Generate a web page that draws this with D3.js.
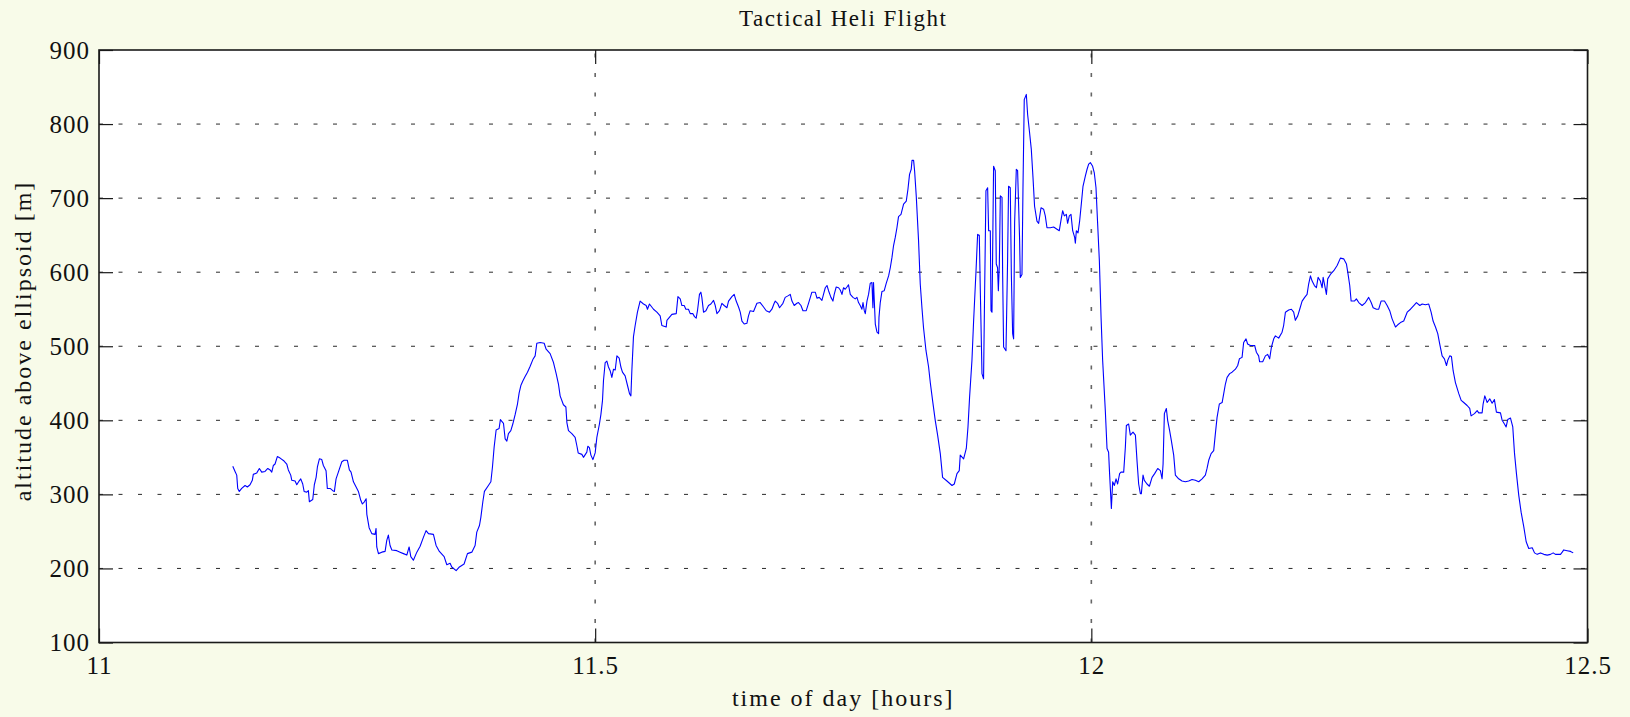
<!DOCTYPE html>
<html>
<head>
<meta charset="utf-8">
<script src="https://cdn.jsdelivr.net/npm/d3@7/dist/d3.min.js"></script>
<style>
  html, body { margin: 0; padding: 0; background: #f8fbe9; }
  svg { display: block; }
  text { font-family: "Liberation Serif", "Times New Roman", Times, serif; fill: #111; }
</style>
</head>
<body>
<svg id="chart" width="1630" height="717"></svg>
<script>
// Axis ticks
const xTicks = [11, 11.5, 12, 12.5];
const xTickLabels = ["11", "11.5", "12", "12.5"];
const yTicks = [100, 200, 300, 400, 500, 600, 700, 800, 900];

// Flight track: [time of day (hours), altitude above ellipsoid (m)]
const legLowLevel = [
  [11.1348,338],[11.1371,331],[11.1388,326],[11.1398,308],[11.1414,304],[11.1438,308],[11.1472,312],[11.1495,310],[11.1522,313],[11.1545,319],
  [11.1555,327],[11.1590,329],[11.1616,335],[11.1640,330],[11.1673,331],[11.1701,335],[11.1724,333],[11.1741,330],[11.1757,339],[11.1774,341],
  [11.1797,351],[11.1825,349],[11.1865,345],[11.1892,341],[11.1908,333],[11.1932,326],[11.1943,319],[11.1976,318],[11.1993,313],[11.2016,318],
  [11.2033,321],[11.2053,314],[11.2067,304],[11.2094,303],[11.2110,305],[11.2120,290],[11.2154,293],[11.2170,313],[11.2188,323],[11.2201,337],
  [11.2221,348],[11.2245,347],[11.2261,339],[11.2288,332],[11.2301,308],[11.2329,308],[11.2356,305],[11.2372,304],[11.2389,321],[11.2412,330],
  [11.2447,344],[11.2470,346],[11.2503,346],[11.2523,333],[11.2540,330],[11.2564,317],[11.2591,310],[11.2614,304],[11.2638,292],[11.2654,287],
  [11.2674,290],[11.2692,294],[11.2699,273],[11.2722,255],[11.2749,247],[11.2782,246],[11.2792,254],[11.2799,229],[11.2816,220],[11.2850,222],
  [11.2883,223],[11.2900,238],[11.2916,245],[11.2933,231],[11.2951,225],[11.3001,224],[11.3034,222],[11.3068,220],[11.3102,218],[11.3125,229],
  [11.3142,216],[11.3168,211],[11.3203,222],[11.3236,230],[11.3269,242],[11.3296,251],[11.3320,247],[11.3370,246],[11.3397,231],[11.3430,223],
  [11.3478,216],[11.3505,205],[11.3538,207],[11.3555,202],[11.3599,197],[11.3632,202]
];

const legClimb = [
  [11.3679,206],[11.3713,220],[11.3757,222],[11.3790,231],[11.3807,249],[11.3834,258],[11.3848,269],[11.3868,290],[11.3884,304],[11.3924,312],
  [11.3949,317],[11.3965,337],[11.3982,364],[11.4002,387],[11.4032,389],[11.4045,401],[11.4076,396],[11.4093,375],[11.4110,372],[11.4126,382],
  [11.4150,386],[11.4170,395],[11.4194,408],[11.4217,422],[11.4234,437],[11.4251,447],[11.4271,453],[11.4294,459],[11.4318,465],[11.4345,473],
  [11.4372,482],[11.4395,487],[11.4412,504],[11.4446,505],[11.4486,504],[11.4506,496],[11.4546,490],[11.4580,478],[11.4607,463],[11.4630,449],
  [11.4647,433],[11.4680,421],[11.4705,418],[11.4715,397],[11.4731,386],[11.4765,382],[11.4798,377],[11.4815,366],[11.4829,356],[11.4866,354],
  [11.4882,350],[11.4916,357],[11.4926,365],[11.4942,363],[11.4957,353],[11.4977,347],[11.5000,356],[11.5017,377],[11.5043,395],[11.5058,408],
  [11.5074,427],[11.5084,454],[11.5101,478],[11.5118,480],[11.5134,472],[11.5151,467],[11.5168,458],[11.5185,469],[11.5202,468],[11.5219,487],
  [11.5242,484],[11.5259,472],[11.5275,465],[11.5302,460],[11.5326,447],[11.5346,436],[11.5360,433],[11.5370,468],[11.5386,513],[11.5403,528],
  [11.5426,546],[11.5453,561],[11.5487,557],[11.5514,555],[11.5527,550],[11.5547,557],[11.5588,550],[11.5622,546],[11.5655,541],[11.5672,528],
  [11.5716,526],[11.5723,535],[11.5773,543],[11.5817,544],[11.5834,567],[11.5857,564]
];

const legCruise = [
  [11.5874,555],[11.5897,555],[11.5914,550],[11.5940,550],[11.5958,544],[11.5985,544],[11.6001,540],[11.6018,538],[11.6031,548],[11.6051,570],
  [11.6065,573],[11.6075,566],[11.6092,546],[11.6116,548],[11.6142,555],[11.6166,557],[11.6193,562],[11.6210,555],[11.6227,544],[11.6253,548],
  [11.6277,558],[11.6300,555],[11.6328,552],[11.6344,561],[11.6378,567],[11.6401,570],[11.6421,561],[11.6445,553],[11.6462,546],[11.6479,534],
  [11.6502,530],[11.6529,531],[11.6545,541],[11.6562,548],[11.6596,547],[11.6630,558],[11.6663,559],[11.6697,553],[11.6724,548],[11.6757,546],
  [11.6781,550],[11.6804,558],[11.6815,561],[11.6838,558],[11.6858,552],[11.6892,558],[11.6915,566],[11.6942,568],[11.6966,570],[11.6983,561],
  [11.7006,555],[11.7033,558],[11.7049,559],[11.7074,555],[11.7094,548],[11.7127,548],[11.7150,558],[11.7184,573],[11.7218,573],[11.7235,565],
  [11.7258,566],[11.7285,562],[11.7301,570],[11.7319,579],[11.7336,582],[11.7352,575],[11.7376,566],[11.7396,561],[11.7409,570],[11.7429,580],
  [11.7453,579],[11.7470,576],[11.7487,570],[11.7503,579],[11.7520,577],[11.7537,580],[11.7553,583],[11.7571,570],[11.7598,566],[11.7621,564],
  [11.7638,566],[11.7654,559],[11.7671,555],[11.7688,550],[11.7699,559],[11.7712,548],[11.7722,544],[11.7739,561],[11.7755,570],[11.7772,585],
  [11.7789,586],[11.7799,552],[11.7805,586],[11.7823,530],[11.7840,519],[11.7856,517],[11.7860,539],[11.7873,559],[11.7890,574],[11.7913,575],
  [11.7933,585],[11.7957,595],[11.7974,606],[11.7991,620],[11.8007,636],[11.8024,647],[11.8041,660],[11.8057,675]
];

const legManoeuvres = [
  [11.8082,678],[11.8108,692],[11.8135,696],[11.8152,712],[11.8168,732],[11.8185,739],[11.8193,751],[11.8209,751],[11.8219,737],[11.8236,702],
  [11.8259,642],[11.8276,584],[11.8293,552],[11.8309,525],[11.8334,494],[11.8360,472],[11.8377,451],[11.8400,427],[11.8427,400],[11.8451,380],
  [11.8478,355],[11.8501,323],[11.8545,318],[11.8596,312],[11.8619,314],[11.8646,328],[11.8669,332],[11.8679,353],[11.8713,348],[11.8740,362],
  [11.8757,391],[11.8773,431],[11.8797,481],[11.8813,532],[11.8838,602],[11.8854,651],[11.8871,650],[11.8881,577],[11.8898,463],[11.8914,456],
  [11.8924,566],[11.8938,710],[11.8955,714],[11.8965,656],[11.8982,656],[11.8989,548],[11.8999,546],[11.9015,743],[11.9032,737],[11.9042,611],
  [11.9055,606],[11.9063,575],[11.9073,611],[11.9083,703],[11.9100,701],[11.9106,600],[11.9116,499],[11.9140,494],[11.9156,615],[11.9166,716],
  [11.9183,714],[11.9194,597],[11.9207,517],[11.9217,510],[11.9227,667],[11.9244,739],[11.9257,737],[11.9277,645],[11.9284,593],[11.9301,597],
  [11.9311,712],[11.9324,833],[11.9345,840],[11.9358,813],[11.9378,788],[11.9395,766],[11.9412,728],[11.9428,689],[11.9452,669],[11.9469,666],
  [11.9493,687],[11.9519,685],[11.9536,676],[11.9553,660],[11.9587,660],[11.9620,661],[11.9654,658],[11.9677,656],[11.9694,670],[11.9711,683],
  [11.9728,676],[11.9748,678],[11.9761,666],[11.9778,676],[11.9795,678],[11.9812,656],[11.9832,647],[11.9839,639],[11.9849,656],[11.9866,653],
  [11.9882,669],[11.9899,692],[11.9916,716],[11.9940,730],[11.9957,739],[11.9973,746],[11.9990,748],[12.0013,743],[12.0030,734],[12.0047,714],
  [12.0063,667],[12.0081,615],[12.0098,539],[12.0114,481],[12.0141,413],[12.0158,362],[12.0174,357],[12.0184,328],[12.0202,281],[12.0215,317],
  [12.0232,312],[12.0249,321],[12.0265,314],[12.0285,328],[12.0299,330],[12.0326,330],[12.0343,364],[12.0353,393],[12.0376,395],[12.0393,380],
  [12.0420,384],[12.0444,380],[12.0461,344],[12.0477,314]
];

const legReturn = [
  [12.0494,301],[12.0504,301],[12.0521,326],[12.0534,319],[12.0561,314],[12.0585,311],[12.0612,323],[12.0638,328],[12.0669,335],[12.0696,332],
  [12.0713,321],[12.0723,341],[12.0736,409],[12.0756,416],[12.0769,400],[12.0789,386],[12.0806,373],[12.0830,353],[12.0847,326],[12.0880,321],
  [12.0914,318],[12.0948,317],[12.0981,318],[12.1015,320],[12.1048,319],[12.1082,317],[12.1116,321],[12.1149,326],[12.1166,335],[12.1183,346],
  [12.1207,355],[12.1233,359],[12.1250,382],[12.1267,404],[12.1290,422],[12.1318,424],[12.1334,436],[12.1351,449],[12.1368,458],[12.1394,463],
  [12.1418,465],[12.1435,467],[12.1452,469],[12.1475,474],[12.1492,483],[12.1519,485],[12.1535,505],[12.1559,510],[12.1575,503],[12.1603,501],
  [12.1646,501],[12.1663,492],[12.1686,487],[12.1696,479],[12.1727,479],[12.1754,487],[12.1777,489],[12.1797,483],[12.1815,499],[12.1838,510],
  [12.1855,514],[12.1888,511],[12.1922,519],[12.1938,528],[12.1956,546],[12.1989,549],[12.2016,550],[12.2039,546],[12.2056,535],[12.2080,541],
  [12.2100,550],[12.2124,561],[12.2150,566],[12.2174,570],[12.2190,584],[12.2208,595],[12.2225,588],[12.2248,582],[12.2268,579],[12.2285,593],
  [12.2308,588],[12.2326,579],[12.2336,593],[12.2359,577],[12.2369,570],[12.2382,591],[12.2409,597],[12.2443,602],[12.2477,609],[12.2510,619],
  [12.2543,618],[12.2571,611],[12.2584,600],[12.2604,582],[12.2618,561],[12.2651,561],[12.2671,564],[12.2695,559],[12.2729,555],[12.2762,559],
  [12.2795,566],[12.2820,559],[12.2840,552],[12.2873,550],[12.2896,550],[12.2920,561],[12.2954,561],[12.2981,555],[12.3007,548],[12.3031,537],
  [12.3065,526],[12.3088,529],[12.3115,532],[12.3148,534],[12.3183,546],[12.3216,550],[12.3249,555],[12.3276,559],[12.3310,555],[12.3334,557],
  [12.3367,556],[12.3400,557],[12.3424,546],[12.3444,534],[12.3468,526],[12.3491,517],[12.3511,503],[12.3535,487],[12.3558,483],[12.3579,474],
  [12.3592,481],[12.3612,487],[12.3629,486],[12.3646,467],[12.3669,451],[12.3703,436]
];

const legDescent = [
  [12.3727,427],[12.3753,424],[12.3787,420],[12.3813,416],[12.3827,406],[12.3861,409],[12.3888,413],[12.3904,410],[12.3938,410],[12.3948,422],
  [12.3965,433],[12.3989,424],[12.4015,429],[12.4039,423],[12.4062,428],[12.4082,411],[12.4123,410],[12.4140,400],[12.4163,395],[12.4180,391],
  [12.4196,401],[12.4224,403],[12.4247,391],[12.4264,356],[12.4284,328],[12.4307,299],[12.4331,276],[12.4358,256],[12.4382,236],[12.4408,227],
  [12.4443,228],[12.4466,221],[12.4493,219],[12.4526,221],[12.4560,219],[12.4594,218],[12.4627,219],[12.4654,221],[12.4677,219],[12.4728,219],
  [12.4745,222],[12.4761,225],[12.4795,224],[12.4829,223],[12.4856,221]
];

const track = [].concat(legLowLevel, legClimb, legCruise, legManoeuvres, legReturn, legDescent);

// Layout
const plot = { left: 99, right: 1587.5, top: 50, bottom: 642.5 };
const fontSize = 25;

const svg = d3.select("#chart");

const x = d3.scaleLinear().domain([11, 12.5]).range([plot.left, plot.right]);
const y = d3.scaleLinear().domain([100, 900]).range([plot.bottom, plot.top]);

// Plot background
svg.append("rect")
  .attr("x", plot.left).attr("y", plot.top)
  .attr("width", plot.right - plot.left).attr("height", plot.bottom - plot.top)
  .attr("fill", "#ffffff");

// Dotted grid
const grid = svg.append("g").attr("class", "grid");
grid.selectAll("line.h")
  .data(yTicks.filter(v => v > 100 && v < 900))
  .join("line").attr("class", "h")
  .attr("x1", plot.left).attr("x2", plot.right)
  .attr("y1", d => y(d)).attr("y2", d => y(d))
  .attr("stroke", "#2a2a2a").attr("stroke-width", 1)
  .attr("stroke-dasharray", "4,15.5");
grid.selectAll("line.v")
  .data(xTicks.filter(v => v > 11 && v < 12.5))
  .join("line").attr("class", "v")
  .attr("x1", d => x(d)).attr("x2", d => x(d))
  .attr("y1", plot.bottom).attr("y2", plot.top)
  .attr("stroke", "#666").attr("stroke-width", 1.6)
  .attr("stroke-dasharray", "4,15.5");

// Altitude trace
const line = d3.line().x(d => x(d[0])).y(d => y(d[1]));
svg.append("path")
  .datum(track)
  .attr("d", line)
  .attr("fill", "none")
  .attr("stroke", "#0000ff")
  .attr("stroke-width", 1.1)
  .attr("stroke-linejoin", "round");

// Axes with inward ticks
const tickLen = 14;
function styleAxis(g) {
  g.select(".domain").remove();
  g.selectAll(".tick line").attr("stroke", "#1a1a1a").attr("stroke-width", 1.2);
  g.selectAll(".tick text")
    .attr("font-size", fontSize)
    .attr("font-family", "\"Liberation Serif\", \"Times New Roman\", serif")
    .attr("fill", "#111")
    .style("letter-spacing", "1px");
}

svg.append("g")
  .attr("transform", `translate(0,${plot.bottom})`)
  .call(d3.axisBottom(x).tickValues(xTicks)
    .tickFormat((d, i) => xTickLabels[i])
    .tickSizeInner(-tickLen).tickSizeOuter(0).tickPadding(14))
  .call(styleAxis);

svg.append("g")
  .attr("transform", `translate(0,${plot.top})`)
  .call(d3.axisTop(x).tickValues(xTicks).tickFormat("")
    .tickSizeInner(-tickLen).tickSizeOuter(0))
  .call(styleAxis);

svg.append("g")
  .attr("transform", `translate(${plot.left},0)`)
  .call(d3.axisLeft(y).tickValues(yTicks).tickFormat(d3.format("d"))
    .tickSizeInner(-tickLen).tickSizeOuter(0).tickPadding(9))
  .call(styleAxis);

svg.append("g")
  .attr("transform", `translate(${plot.right},0)`)
  .call(d3.axisRight(y).tickValues(yTicks).tickFormat("")
    .tickSizeInner(-tickLen).tickSizeOuter(0))
  .call(styleAxis);

// Frame
svg.append("rect")
  .attr("x", plot.left).attr("y", plot.top)
  .attr("width", plot.right - plot.left).attr("height", plot.bottom - plot.top)
  .attr("fill", "none")
  .attr("stroke", "#1a1a1a").attr("stroke-width", 1.6);

// Titles
const midX = (plot.left + plot.right) / 2;
svg.append("text")
  .attr("x", midX).attr("y", 26)
  .attr("text-anchor", "middle")
  .attr("font-size", 23)
  .style("letter-spacing", "1.5px")
  .text("Tactical Heli Flight");

svg.append("text")
  .attr("x", midX).attr("y", 706)
  .attr("text-anchor", "middle")
  .attr("font-size", 24)
  .style("letter-spacing", "2px")
  .text("time of day [hours]");

svg.append("text")
  .attr("transform", `translate(31,341) rotate(-90)`)
  .attr("text-anchor", "middle")
  .attr("font-size", 24)
  .style("letter-spacing", "2px")
  .text("altitude above ellipsoid [m]");
</script>
</body>
</html>
